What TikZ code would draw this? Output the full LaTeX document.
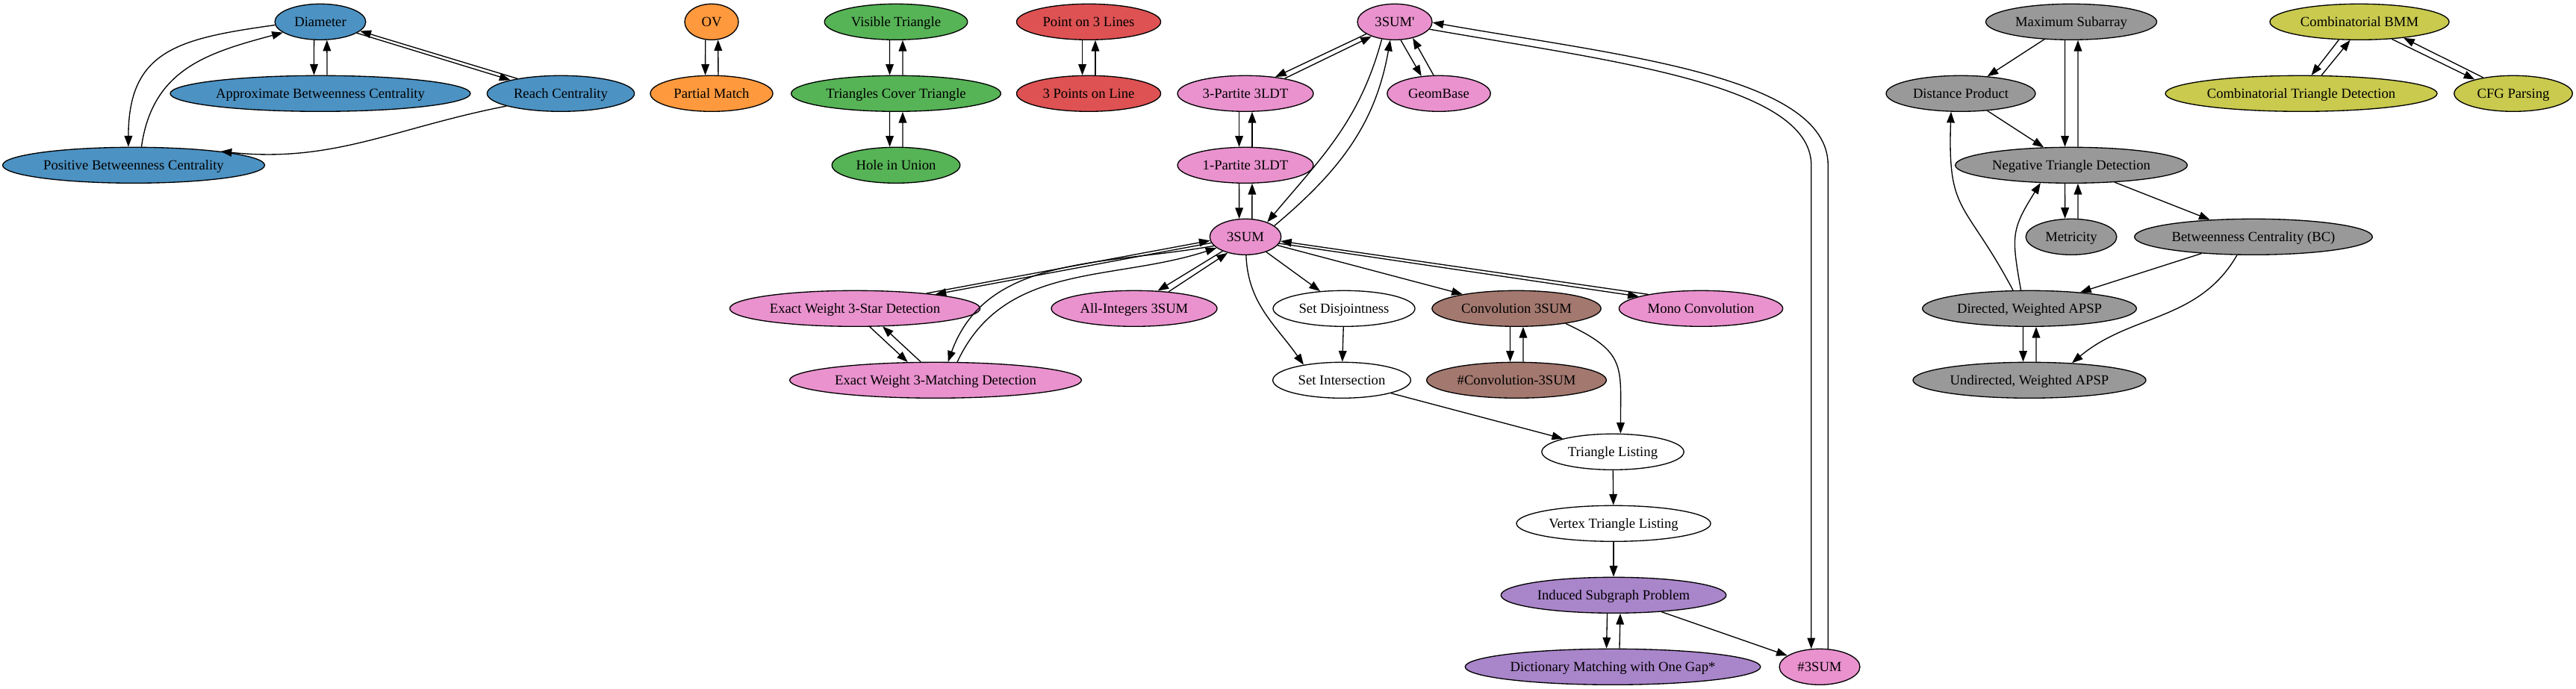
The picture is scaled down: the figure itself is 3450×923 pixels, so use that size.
\documentclass[tikz,border=0pt]{standalone}
\usepackage{fontspec}
\setmainfont{Liberation Serif}
\usetikzlibrary{shapes.geometric,arrows.meta}

\definecolor{gblue}{RGB}{76,146,195}
\definecolor{gorange}{RGB}{255,153,62}
\definecolor{ggreen}{RGB}{86,179,86}
\definecolor{gred}{RGB}{222,82,83}
\definecolor{gpink}{RGB}{233,146,206}
\definecolor{gbrown}{RGB}{163,120,111}
\definecolor{gpurple}{RGB}{169,133,202}
\definecolor{ggray}{RGB}{153,153,153}
\definecolor{golive}{RGB}{201,202,78}

\tikzset{
  prob/.style={ellipse, draw, line width=1pt, minimum height=36pt, inner xsep=0pt, inner ysep=2pt,
    text height=12pt, text depth=2pt, font=\fontsize{14pt}{16pt}\selectfont},
  link/.style={-{Triangle[length=11pt,width=8pt]}, line width=1pt}
}

\begin{document}
\begin{tikzpicture}[x=0.75pt,y=0.75pt]
\useasboundingbox (0,0) rectangle (3450,-923);

%draw nodes, blue group
    \node[prob,fill=gblue,minimum width=91.3pt] (dia) at (429,-29.3) {Diameter};
    \node[prob,fill=gblue,minimum width=301.5pt] (abc) at (429,-125.3) {Approximate Betweenness Centrality};
    \node[prob,fill=gblue,minimum width=147.9pt] (reach) at (751,-125.3) {Reach Centrality};
    \node[prob,fill=gblue,minimum width=263.2pt] (pbc) at (179,-221.3) {Positive Betweenness Centrality};

%orange, green and red groups
    \node[prob,fill=gorange,minimum width=54pt] (ov) at (953,-29.3) {OV};
    \node[prob,fill=gorange,minimum width=123pt] (pm) at (953,-125.3) {Partial Match};
    \node[prob,fill=ggreen,minimum width=143.7pt] (vis) at (1200,-29.3) {Visible Triangle};
    \node[prob,fill=ggreen,minimum width=210.6pt] (tct) at (1200,-125.3) {Triangles Cover Triangle};
    \node[prob,fill=ggreen,minimum width=128.7pt] (hole) at (1200,-221.3) {Hole in Union};
    \node[prob,fill=gred,minimum width=144.8pt] (plines) at (1458,-29.3) {Point on 3 Lines};
    \node[prob,fill=gred,minimum width=144.8pt] (ponline) at (1458,-125.3) {3 Points on Line};

%3SUM group
    \node[prob,fill=gpink,minimum width=75pt] (sumq) at (1868,-29.3) {3SUM\textquotesingle};
    \node[prob,fill=gpink,minimum width=136.4pt] (tpart) at (1668,-125.3) {3-Partite 3LDT};
    \node[prob,fill=gpink,minimum width=103.7pt] (geom) at (1927,-125.3) {GeomBase};
    \node[prob,fill=gpink,minimum width=136.4pt] (opart) at (1668,-221.3) {1-Partite 3LDT};
    \node[prob,fill=gpink,minimum width=71.6pt] (sum) at (1668,-317.3) {3SUM};
    \node[prob,fill=gpink,minimum width=251.5pt] (star) at (1145,-413.3) {Exact Weight 3-Star Detection};
    \node[prob,fill=gpink,minimum width=166.5pt] (allint) at (1519,-413.3) {All-Integers 3SUM};
    \node[prob,minimum width=142.5pt] (disj) at (1800,-413.3) {Set Disjointness};
    \node[prob,fill=gbrown,minimum width=169.7pt] (conv) at (2031,-413.3) {Convolution 3SUM};
    \node[prob,fill=gpink,minimum width=164.5pt] (mono) at (2278,-413.3) {Mono Convolution};
    \node[prob,fill=gpink,minimum width=293.1pt] (match) at (1253,-509.3) {Exact Weight 3-Matching Detection};
    \node[prob,minimum width=138.5pt] (inter) at (1797,-509.3) {Set Intersection};
    \node[prob,fill=gbrown,minimum width=180.5pt] (nconv) at (2031,-509.3) {\#Convolution-3SUM};
    \node[prob,minimum width=142.7pt] (tri) at (2160,-605.3) {Triangle Listing};
    \node[prob,minimum width=195pt] (vtri) at (2161,-701.3) {Vertex Triangle Listing};
    \node[prob,fill=gpurple,minimum width=226.2pt] (isp) at (2161,-797.3) {Induced Subgraph Problem};
    \node[prob,fill=gpurple,minimum width=296.7pt] (dict) at (2160,-893.3) {Dictionary Matching with One Gap*};
    \node[prob,fill=gpink,minimum width=80.9pt] (nsum) at (2437,-893.3) {\#3SUM};

%APSP group
    \node[prob,fill=ggray,minimum width=171.7pt] (maxsub) at (2774,-29.3) {Maximum Subarray};
    \node[prob,fill=ggray,minimum width=149.9pt] (dist) at (2626,-125.3) {Distance Product};
    \node[prob,fill=ggray,minimum width=233pt] (ntd) at (2774,-221.3) {Negative Triangle Detection};
    \node[prob,fill=ggray,minimum width=91.3pt] (metr) at (2774,-317.3) {Metricity};
    \node[prob,fill=ggray,minimum width=239pt] (bc) at (3018,-317.3) {Betweenness Centrality (BC)};
    \node[prob,fill=ggray,minimum width=215pt] (dapsp) at (2718,-413.3) {Directed, Weighted APSP};
    \node[prob,fill=ggray,minimum width=234pt] (uapsp) at (2718,-509.3) {Undirected, Weighted APSP};

%BMM group
    \node[prob,fill=golive,minimum width=180pt] (bmm) at (3160,-29.3) {Combinatorial BMM};
    \node[prob,fill=golive,minimum width=273pt] (ctd) at (3082,-125.3) {Combinatorial Triangle Detection};
    \node[prob,fill=golive,minimum width=118.8pt] (cfg) at (3366,-125.3) {CFG Parsing};

%draw two-way links between stacked nodes
    \foreach \a/\b in {dia/abc, ov/pm, vis/tct, tct/hole, plines/ponline, tpart/opart, opart/sum,
        conv/nconv, isp/dict, maxsub/ntd, ntd/metr, dapsp/uapsp}
    {
    \draw[link] (\a.-109.5) -- (\b.109.5);
    \draw[link] (\b.70.5) -- (\a.-70.5);
    }

%draw one-way straight links
    \foreach \a/\b in {sum/disj, sum/conv, disj/inter, inter/tri, tri/vtri, vtri/isp, isp/nsum,
        maxsub/dist, dist/ntd, ntd/bc, bc/dapsp}
    \draw[link] (\a) -- (\b);

%blue links
    \draw[link] (dia.-17) -- (reach.165);
    \draw[link] (reach.161) -- (dia.-13);
    \draw[link] (dia.184) to[out=188,in=90,looseness=1.3] (pbc.106);
    \draw[link] (pbc.67) to[out=82,in=195,looseness=1.1] (dia.196);
    \draw[link] (reach.193) to[out=191,in=-6] (pbc.9);

%3SUM links
    \draw[link] (sumq.203) -- (tpart.29);
    \draw[link] (tpart.21) -- (sumq.212);
    \draw[link] (sumq.-72) -- (geom.135);
    \draw[link] (geom.106) -- (sumq.-42);
    \draw[link] (sumq.-127) to[out=-105,in=50] (sum.34);
    \draw[link] (sum.21) to[out=40,in=-100] (sumq.-104);
    \coordinate (loopa) at (nsum.115 |- opart);
    \coordinate (loopb) at (nsum.65 |- opart);
    \draw[link] (sumq.-12) to[out=-10,in=90,out distance=180pt,in distance=82pt] (loopa) -- (nsum.115);
    \draw[link] (nsum.65) -- (loopb) to[out=90,in=-10,out distance=90pt,in distance=188pt] (sumq.-1);
    \draw[link] (sum.190) -- (star.10);
    \draw[link] (star.12) -- (sum.186);
    \draw[link] (sum.196) to[out=190,in=70] (match.56);
    \draw[link] (match.40) to[out=65,in=198] (sum.201);
    \draw[link] (star.-51) -- (match.147);
    \draw[link] (match.129) -- (star.-33);
    \draw[link] (sum.212) -- (allint.37);
    \draw[link] (allint.26) -- (sum.222);
    \draw[link] (sum.-11) -- (mono.169);
    \draw[link] (mono.165) -- (sum.-7);
    \draw[link] (sum.-88) to[out=-88,in=125] (inter.158);
    \draw[link] (conv.-17) to[out=-25,in=90,looseness=1.4] (tri.67);

%APSP links
    \draw[link] (bc.-132) to[out=-120,in=40] (uapsp.22);
    \draw[link] (dapsp.132) to[out=118,in=-92,looseness=1.4] (dist.-118);
    \draw[link] (dapsp.115) to[out=100,in=-122,looseness=1.3] (ntd.-150);

%BMM links
    \draw[link] (bmm.-139) -- (ctd.61);
    \draw[link] (ctd.42) -- (bmm.-117);
    \draw[link] (bmm.-28) -- (cfg.160);
    \draw[link] (cfg.152) -- (bmm.-20);
\end{tikzpicture}
\end{document}
